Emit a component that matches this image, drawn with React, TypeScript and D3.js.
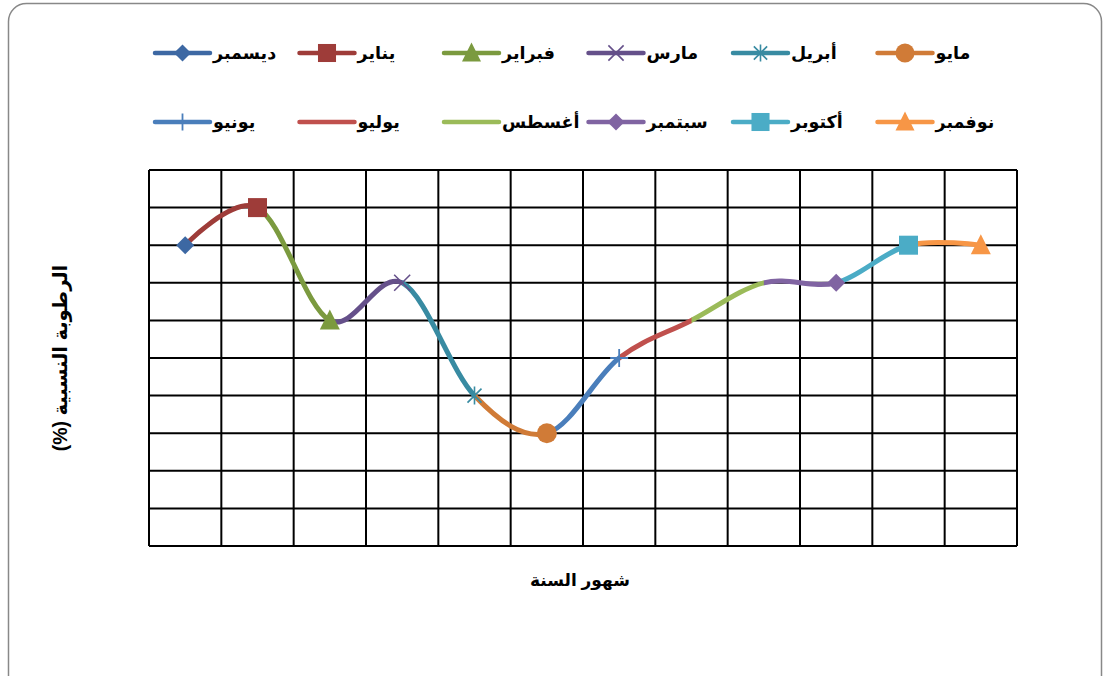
import React from "react";
import * as d3 from "d3";

const months = ["ديسمبر", "يناير", "فبراير", "مارس", "أبريل", "مايو", "يونيو", "يوليو", "أغسطس", "سبتمبر", "أكتوبر", "نوفمبر"];
const values = [8, 9, 6, 7, 4, 3, 5, 6, 7, 7, 8, 8];
const colors = ["#3D68A3", "#9E3C39", "#7B9A3F", "#65508A", "#388BA2", "#D07B37", "#4A7EBB", "#C0504D", "#9BBB59", "#8064A2", "#4BACC6", "#F79646"];
const markers = ["diamond", "square", "triangle", "x", "star", "circle", "plus", "none", "none", "diamond", "square", "triangle"];
// legend layout order (left to right), two rows
const legendRow1 = [0, 1, 2, 3, 4, 5];
const legendRow2 = [6, 7, 8, 9, 10, 11];
const yTitle = "الرطوبة النسبية (%)";
const xTitle = "شهور السنة";

const W = 1107, H = 676;
const plot = { left: 149, right: 1017, top: 170, bottom: 546 };
const FONT = "Arial, 'Liberation Sans', 'DejaVu Sans', sans-serif";

function Marker({ type, x, y, color, s = 1 }: { type: string; x: number; y: number; color: string; s?: number }) {
  const k = s;
  switch (type) {
    case "diamond":
      return <path d={`M${x},${y - 9 * k}L${x + 9 * k},${y}L${x},${y + 9 * k}L${x - 9 * k},${y}Z`} fill={color} />;
    case "square":
      return <rect x={x - 9.5 * k} y={y - 9.5 * k} width={19 * k} height={19 * k} fill={color} />;
    case "triangle":
      return <path d={`M${x},${y - 11 * k}L${x + 10 * k},${y + 9 * k}L${x - 10 * k},${y + 9 * k}Z`} fill={color} />;
    case "circle":
      return <circle cx={x} cy={y} r={10 * k} fill={color} />;
    case "x":
      return (
        <path d={`M${x - 8 * k},${y - 8 * k}L${x + 8 * k},${y + 8 * k}M${x + 8 * k},${y - 8 * k}L${x - 8 * k},${y + 8 * k}`} stroke={color} strokeWidth={1.6} fill="none" />
      );
    case "star":
      return (
        <path d={`M${x - 7 * k},${y - 7 * k}L${x + 7 * k},${y + 7 * k}M${x + 7 * k},${y - 7 * k}L${x - 7 * k},${y + 7 * k}M${x},${y - 9 * k}L${x},${y + 9 * k}`} stroke={color} strokeWidth={1.6} fill="none" />
      );
    case "plus":
      return <path d={`M${x - 9 * k},${y}L${x + 9 * k},${y}M${x},${y - 9 * k}L${x},${y + 9 * k}`} stroke={color} strokeWidth={1.8} fill="none" />;
    default:
      return null;
  }
}

export default function App() {
  const x = d3.scaleBand<number>().domain(d3.range(12)).range([plot.left, plot.right]);
  const y = d3.scaleLinear().domain([0, 10]).range([plot.bottom, plot.top]);
  const cx = (i: number) => (x(i) as number) + x.bandwidth() / 2;
  const pts: [number, number][] = values.map((v, i) => [cx(i), y(v)]);
  const line = d3.line().curve(d3.curveCardinal.tension(0));
  const fullPath = line(pts) as string;
  const xTicks = d3.range(13).map((i) => plot.left + i * x.bandwidth());
  const yTicks = y.ticks(10);

  const legendItem = (idx: number, i: number, ly: number) => {
    const lx = 155 + i * 144.5;
    return (
      <g key={idx}>
        <line x1={lx} x2={lx + 55} y1={ly} y2={ly} stroke={colors[idx]} strokeWidth={4.5} strokeLinecap="round" />
        <Marker type={markers[idx]} x={lx + 27.5} y={ly} color={colors[idx]} s={0.95} />
        <text x={lx + 58} y={ly} dy="0.35em" fontFamily={FONT} fontWeight="bold" fontSize={17.5} fill="#000" textAnchor="start">
          {months[idx]}
        </text>
      </g>
    );
  };

  return (
    <svg width={W} height={H} style={{ position: "absolute", left: 0, top: 0 }}>
      <rect x={0} y={0} width={W} height={H} fill="#fff" />
      <rect x={8.5} y={3.5} width={1093} height={700} rx={18} fill="#fff" stroke="#888" strokeWidth={1.5} />
      <defs>
        {values.slice(1).map((_, k) => (
          <clipPath id={`seg${k}`} key={k}>
            <rect x={cx(k)} y={0} width={cx(k + 1) - cx(k) + 0.5} height={H} />
          </clipPath>
        ))}
      </defs>
      {/* grid */}
      <g stroke="#000" strokeWidth={2}>
        {yTicks.map((t) => (
          <line key={"h" + t} x1={plot.left} x2={plot.right} y1={y(t)} y2={y(t)} />
        ))}
        {xTicks.map((t, i) => (
          <line key={"v" + i} x1={t} x2={t} y1={plot.top} y2={plot.bottom} />
        ))}
      </g>
      {/* line segments */}
      {values.slice(1).map((_, k) => (
        <path key={k} d={fullPath} fill="none" stroke={colors[k + 1]} strokeWidth={5} clipPath={`url(#seg${k})`} />
      ))}
      {/* markers */}
      {pts.map((p, i) => (
        <Marker key={i} type={markers[i]} x={p[0]} y={p[1]} color={colors[i]} />
      ))}
      {/* legend */}
      {legendRow1.map((idx, i) => legendItem(idx, i, 53))}
      {legendRow2.map((idx, i) => legendItem(idx, i, 122))}
      {/* axis titles */}
      <text x={580} y={580} dy="0.35em" textAnchor="middle" fontFamily={FONT} fontWeight="bold" fontSize={17}>
        {xTitle}
      </text>
      <text transform={`translate(60,358) rotate(-90)`} dy="0.35em" textAnchor="middle" direction="rtl" fontFamily={FONT} fontWeight="bold" fontSize={19.5}>
        {yTitle}
      </text>
    </svg>
  );
}
